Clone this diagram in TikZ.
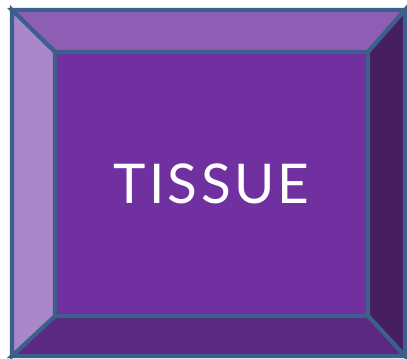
\documentclass[tikz,border=0pt]{standalone}
\usepackage{fontspec}
\setmainfont{Lato}
\newfontfamily\rotulo[LetterSpace=6]{Lato}
\usetikzlibrary{calc}
\definecolor{bordeazul}{HTML}{3D5F8C}
\definecolor{moradonucleo}{HTML}{7030A0}
\definecolor{moradoalto}{HTML}{8E5DB4}
\definecolor{moradoclaro}{HTML}{A987C9}
\definecolor{moradobajo}{HTML}{5B2882}
\definecolor{moradohondo}{HTML}{471E60}
\tikzset{
  cara/.style={draw=bordeazul, line width=2.9pt, line join=miter},
  rotuloblanco/.style={text=white, font=\rotulo\fontsize{39}{46}\selectfont, inner sep=0pt}
}
\begin{document}
\begin{tikzpicture}[x=0.025cm, y=-0.025cm]
  \useasboundingbox (0,0) rectangle (407,359);
  % esquinas exteriores e interiores
  \coordinate (o1) at (12,10);
  \coordinate (o2) at (405,10);
  \coordinate (o3) at (405,356);
  \coordinate (o4) at (12,356);
  \coordinate (i1) at (55,52);
  \coordinate (i2) at (368,52);
  \coordinate (i3) at (368,316);
  \coordinate (i4) at (55,316);
  \filldraw [cara, fill=moradoalto] (o1) -- (o2) -- (i2) -- (i1) -- cycle;
  \filldraw [cara, fill=moradohondo] (o2) -- (o3) -- (i3) -- (i2) -- cycle;
  \filldraw [cara, fill=moradobajo] (o3) -- (o4) -- (i4) -- (i3) -- cycle;
  \filldraw [cara, fill=moradoclaro] (o4) -- (o1) -- (i1) -- (i4) -- cycle;
  \filldraw [cara, fill=moradonucleo] (i1) rectangle (i3);
  \node (tejido) [rotuloblanco] at ($(i1)!0.5!(i3)$) {TISSUE};
\end{tikzpicture}
\end{document}
